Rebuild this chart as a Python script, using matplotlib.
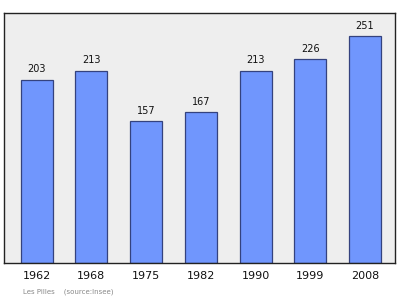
import matplotlib
matplotlib.use('Agg')
from matplotlib import pyplot as plt
import numpy as np

years = ['1962', '1968', '1975', '1982', '1990', '1999', '2008']
population = [203, 213, 157, 167, 213, 226, 251]

fig = plt.figure(figsize=(4.0, 2.99), dpi=100)
ax = fig.add_axes([0.01, 0.1204, 0.9775, 0.8361])
ax.set_facecolor('#eeeeee')

x = np.arange(len(years))
ax.bar(x, population, width=0.585, color='#7096fd', edgecolor='#34427e', linewidth=0.9, zorder=2)

for xi, v in zip(x, population):
    ax.text(xi, v + 6, str(v), ha='center', va='bottom', fontsize=7, color='#111111')

ax.set_xlim(-0.594, 6.547)
ax.set_ylim(0, 277)
ax.set_yticks([])
ax.set_xticks(x)
ax.set_xticklabels(years, fontsize=8, color='#111111')
ax.tick_params(axis='x', length=0, pad=6)
for s in ax.spines.values():
    s.set_color('#222222')
    s.set_linewidth(1.0)

fig.text(23 / 400, 1 - 292 / 299, 'Les Pilles    (source:Insee)', fontsize=5, color='#888888', va='center')

fig.savefig('out.png', dpi=100)
